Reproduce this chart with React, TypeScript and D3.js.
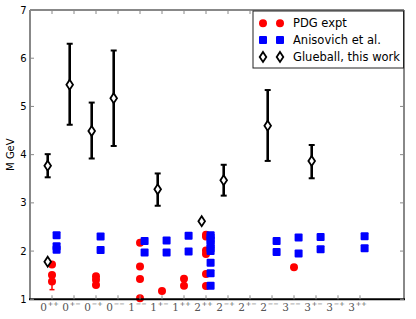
import React from "react";
import * as d3 from "d3";

// J^PC channels along the x axis (digit + superscript)
const channels = ["0++", "0+-", "0-+", "0--", "1--", "1+-", "1++", "2++", "2-+", "2+-", "2--", "3--", "3+-", "3-+", "3++"];
const yTicks = [1, 2, 3, 4, 5, 6, 7];

// PDG experimental states
const pdgChannel = ["0++", "0++", "0++", "0-+", "0-+", "0-+", "1--", "1--", "1--", "1--", "1+-", "1++", "1++", "2++", "2++", "2++", "2++", "2++", "2++", "3--"];
const pdgMass = [1.72, 1.505, 1.37, 1.476, 1.405, 1.294, 2.175, 1.68, 1.42, 1.02, 1.17, 1.426, 1.282, 2.34, 2.3, 2.01, 1.94, 1.525, 1.275, 1.667];
// one PDG state drawn with an error bar
const pdgErrChannel = ["0++"];
const pdgErrMass = [1.37];
const pdgErrLo = [1.2];
const pdgErrHi = [1.5];

// Anisovich et al.
const aniChannel = ["0++", "0++", "0++", "0-+", "0-+", "1--", "1--", "1+-", "1+-", "1++", "1++", "2++", "2++", "2++", "2++", "2++", "2++", "2++", "2++", "2++", "2--", "2--", "3--", "3--", "3+-", "3+-", "3++", "3++"];
const aniMass = [2.33, 2.1, 2.03, 2.3, 2.02, 2.21, 1.97, 2.22, 1.97, 2.32, 1.99, 2.33, 2.28, 2.22, 2.14, 2.06, 2.0, 1.76, 1.54, 1.28, 2.21, 1.98, 2.28, 1.95, 2.29, 2.04, 2.31, 2.06];

// Glueball, this work
const glueChannel = ["0++", "0++", "0+-", "0-+", "0--", "1+-", "2++", "2-+", "2--", "3+-"];
const glueMass = [1.78, 3.77, 5.45, 4.49, 5.17, 3.28, 2.62, 3.47, 4.6, 3.87];
const glueLo = [null, 3.53, 4.62, 3.92, 4.18, 2.94, null, 3.15, 3.87, 3.51];
const glueHi = [null, 4.01, 6.3, 5.08, 6.16, 3.61, null, 3.79, 5.34, 4.2];

const W = 416;
const H = 319;

export default function App() {
  const x = d3.scaleLinear().domain([-1, channels.length + 1]).range([30, 404]);
  const y = d3.scaleLinear().domain([1, 7]).range([299.3, 10]);
  const cx = (c: string) => x(channels.indexOf(c));

  const diamond = (px: number, py: number) =>
    `M${px},${py - 5} L${px + 3.3},${py} L${px},${py + 5} L${px - 3.3},${py} Z`;

  const [left, right] = x.range();
  const [bottom, top] = y.range();

  return (
    <svg width={W} height={H} style={{ position: "absolute", left: 0, top: 0, background: "#fff" }}>
      {/* PDG */}
      {pdgErrMass.map((m, i) => {
        const px = cx(pdgErrChannel[i]);
        return (
          <g key={"pe" + i} stroke="red" strokeWidth={1.5}>
            <line x1={px} x2={px} y1={y(pdgErrLo[i])} y2={y(pdgErrHi[i])} />
            <line x1={px - 2.5} x2={px + 2.5} y1={y(pdgErrLo[i])} y2={y(pdgErrLo[i])} />
            <line x1={px - 2.5} x2={px + 2.5} y1={y(pdgErrHi[i])} y2={y(pdgErrHi[i])} />
          </g>
        );
      })}
      {pdgMass.map((m, i) => (
        <circle key={"p" + i} cx={cx(pdgChannel[i])} cy={y(m)} r={4} fill="red" />
      ))}
      {/* Anisovich */}
      {aniMass.map((m, i) => (
        <rect key={"a" + i} x={cx(aniChannel[i]) + 4.6 - 4} y={y(m) - 4} width={8} height={8} rx={1} fill="blue" />
      ))}
      {/* Glueball */}
      {glueMass.map((m, i) => {
        const px = cx(glueChannel[i]) - 4.3;
        const lo = glueLo[i];
        const hi = glueHi[i];
        return (
          <g key={"g" + i}>
            {lo !== null && hi !== null && (
              <g stroke="#000" strokeWidth={2.6}>
                <line x1={px} x2={px} y1={y(lo)} y2={y(hi)} />
                <line x1={px - 3} x2={px + 3} y1={y(lo)} y2={y(lo)} strokeWidth={2} />
                <line x1={px - 3} x2={px + 3} y1={y(hi)} y2={y(hi)} strokeWidth={2} />
              </g>
            )}
            <path d={diamond(px, y(m))} fill="#fff" stroke="#000" strokeWidth={1.8} />
          </g>
        );
      })}

      {/* frame */}
      <line x1={left} x2={left} y1={top} y2={bottom} stroke="#888" strokeWidth={2} />
      <line x1={right} x2={right} y1={top} y2={bottom} stroke="#888" strokeWidth={2} />
      <line x1={left} x2={right} y1={top} y2={top} stroke="#888" strokeWidth={2} />
      <line x1={left - 1} x2={right + 1} y1={bottom} y2={bottom} stroke="#000" strokeWidth={2} />

      {/* ticks (inward) */}
      {channels.map((c, i) => (
        <g key={"xt" + i} stroke="#888" strokeWidth={1}>
          <line x1={x(i)} x2={x(i)} y1={bottom} y2={bottom - 4} />
          <line x1={x(i)} x2={x(i)} y1={top} y2={top + 4} />
        </g>
      ))}
      {yTicks.map((t) => (
        <g key={"yt" + t} stroke="#888" strokeWidth={1}>
          <line x1={left} x2={left + 4} y1={y(t)} y2={y(t)} />
          <line x1={right} x2={right - 4} y1={y(t)} y2={y(t)} />
        </g>
      ))}

      {/* y tick labels */}
      {yTicks.map((t) => (
        <text key={"yl" + t} x={left - 3.5} y={y(t) + 3.6} textAnchor="end" fontSize={10} fontFamily="DejaVu Sans" fill="#000">
          {t}
        </text>
      ))}
      {/* x tick labels */}
      {channels.map((c, i) => (
        <text key={"xl" + i} x={x(i) - 2.5} y={310.5} textAnchor="middle" fontFamily="DejaVu Serif" fill="#555">
          <tspan fontSize={10.5}>{c[0]}</tspan>
          <tspan fontSize={6.5} dy={-5} dx={0.8}>{c.slice(1).replace(/-/g, "\u2212")}</tspan>
        </text>
      ))}

      <text transform={`translate(14,${(top + bottom) / 2}) rotate(-90)`} textAnchor="middle" fontSize={10} fontFamily="DejaVu Sans">
        M GeV
      </text>

      {/* legend */}
      <rect x={253} y={11} width={150.5} height={57} fill="#fff" stroke="#222" strokeWidth={1} />
      {[0, 1, 2].map((k) => {
        const ly = 23.3 + k * 16.8;
        const labels = ["PDG expt", "Anisovich et al.", "Glueball, this work"];
        return (
          <g key={"lg" + k}>
            {[263, 280].map((lx) =>
              k === 0 ? (
                <circle key={lx} cx={lx} cy={ly} r={4} fill="red" />
              ) : k === 1 ? (
                <rect key={lx} x={lx - 4} y={ly - 4} width={8} height={8} rx={1} fill="blue" />
              ) : (
                <path key={lx} d={diamond(lx, ly)} fill="#fff" stroke="#000" strokeWidth={1.8} />
              )
            )}
            <text x={293} y={ly + 4} fontSize={11.5} fontFamily="DejaVu Sans">
              {labels[k]}
            </text>
          </g>
        );
      })}
    </svg>
  );
}
